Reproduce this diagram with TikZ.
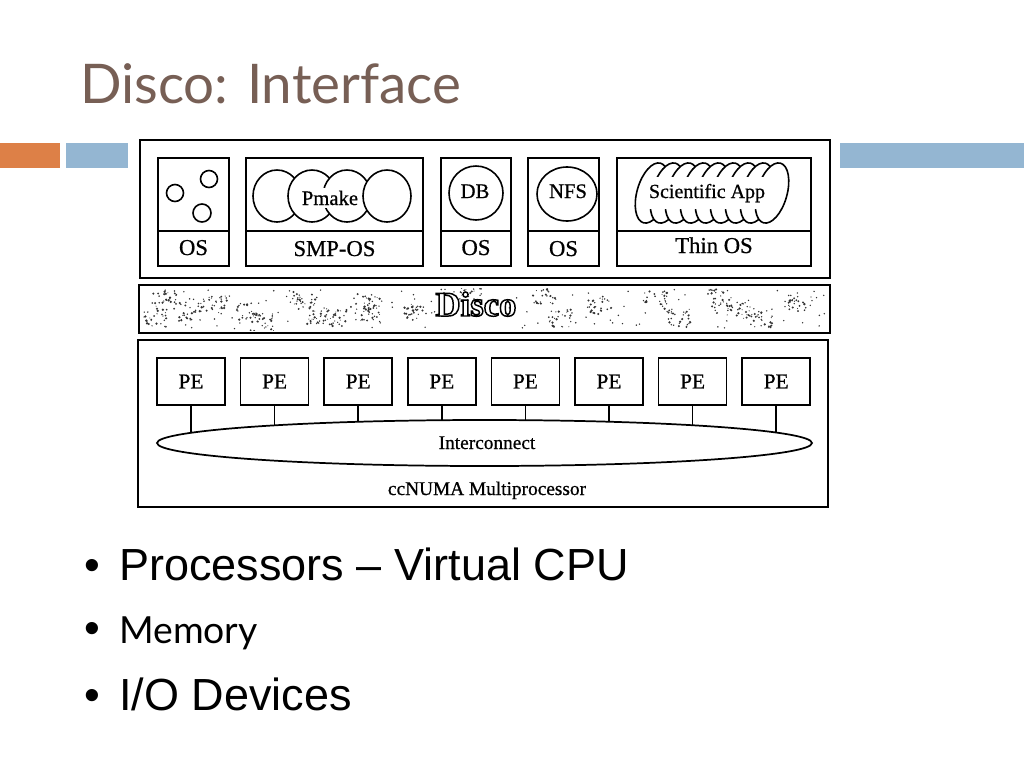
\documentclass[tikz,border=0pt]{standalone}
\usepackage{fontspec}
\setmainfont{Liberation Serif}[FakeBold=0.7]
\newfontfamily\arialf{Liberation Sans}
\newfontfamily\gillf{Lato}
\newfontfamily\discof{Liberation Serif}[BoldFont={* Bold}]
\usetikzlibrary{shapes.geometric}
\pgfdeclarelayer{background}
\pgfsetlayers{background,main}
\newcommand\myfs[1]{\fontsize{#1}{#1}\selectfont}
\definecolor{titlec}{HTML}{775F55}
\definecolor{orangec}{HTML}{DD8047}
\definecolor{bluec}{HTML}{94B6D2}
\begin{document}
\begin{tikzpicture}[x=0.75pt,y=-0.75pt,
  every node/.style={inner sep=0pt},
  frame/.style={draw, line width=1.6pt, rectangle, inner sep=0pt},
  ibox/.style={draw, line width=1.3pt, rectangle, minimum height=81pt},
  pebox/.style={draw, line width=1.3pt, rectangle, minimum width=51pt, minimum height=35.25pt, font=\myfs{16}},
  lbl/.style={anchor=base, font=\myfs{17}},
  slbl/.style={anchor=base, font=\myfs{15.5}},
  thinline/.style={line width=1.2pt},
  conn/.style={line width=1.1pt},
  speck/.style={fill=black!80},
  bullet/.style={anchor=base west, font=\arialf\myfs{33.75}}
]
\useasboundingbox (0,0) rectangle (1024,768);
\begin{pgfonlayer}{background}
\fill[white] (0,0) rectangle (1024,768);
\end{pgfonlayer}

% title and decoration bars
\node[anchor=base west, text=titlec, font=\gillf\myfs{41}] (title) at (80,103) {Disco: Interface};
\fill[orangec] (0,143) rectangle (60,168);
\fill[bluec] (66,143) rectangle (128,168);
\fill[bluec] (840,143) rectangle (1024,168);

% outer frames
\node[frame, minimum width=517.5pt, minimum height=103.5pt] (top) at (485,209) {};
\node[frame, minimum width=518.25pt, minimum height=36pt] (band) at (484.5,309) {};
\node[frame, minimum width=517.5pt, minimum height=125.25pt] (bot) at (483,423.5) {};

% speckle texture of the Disco band
\begin{scope}
\clip (142,288) rectangle (827,330);
\pgfmathsetseed{12}
\foreach \cx/\cy in {155/318,165/300,190/312,215/305,248/312,262/322,305/300,318/315,335/318,368/302,372/314,415/312,470/292,545/296,560/318,600/305,655/300,680/318,720/298,738/310,760/318,800/303}{
  \foreach \k in {1,...,26}{
    \pgfmathsetmacro\dx{rand*12}
    \pgfmathsetmacro\dy{rand*9}
    \pgfmathsetmacro\rr{0.9+0.4*rand}
    \fill[speck] (\cx+\dx,\cy+\dy) circle[radius=\rr];
  }
}
\foreach \k in {1,...,140}{
  \pgfmathsetmacro\xx{485+rand*340}
  \pgfmathsetmacro\yy{309+rand*20}
  \fill[speck] (\xx,\yy) circle[radius=0.8];
}
\end{scope}
\node[anchor=base, text=white, font=\discof\bfseries\myfs{26}] (disco) at (476,316)
  {\special{pdf:code 0 G 2 Tr 1.1 w}Disco\special{pdf:code 0 Tr}};

% top inner boxes
\node[ibox, minimum width=53.25pt] (b1) at (193.5,212) {};
\node[ibox, minimum width=132.75pt] (b2) at (334.5,212) {};
\node[ibox, minimum width=52.5pt] (b3) at (476,212) {};
\node[ibox, minimum width=53.25pt] (b4) at (563.5,212) {};
\node[ibox, minimum width=145.5pt] (b5) at (714,212) {};
\coordinate (div) at (0,231);
\foreach \b in {b1,b2,b3,b4,b5}
  \draw[thinline] (\b.west |- div) -- (\b.east |- div);

\node[lbl] (os1) at (193.5,255) {OS};
\node[lbl] (os2) at (334.5,256) {SMP-OS};
\node[lbl] (os3) at (476,255) {OS};
\node[lbl] (os4) at (563.5,256) {OS};
\node[lbl] (os5) at (714,253) {Thin OS};

% box 1: three small circles
\draw[thinline] (175,193) circle[radius=8.5];
\draw[thinline] (209,179) circle[radius=8.5];
\draw[thinline] (202,213) circle[radius=9];

% box 2: Pmake circles
\foreach \cx in {277,312,347,387}
  \draw[thinline, fill=white] (\cx,196) ellipse[x radius=24, y radius=26];
\node[slbl, fill=white, inner xsep=1pt, inner ysep=2pt] (pmake) at (330,205) {Pmake};

% box 3: DB
\draw[thinline] (476,193) circle[radius=27];
\node[slbl] (db) at (475,198) {DB};

% box 4: NFS
\draw[thinline] (567,194) ellipse[x radius=30, y radius=27];
\node[slbl] (nfs) at (568,198) {NFS};

% box 5: Scientific App coil
\foreach \k in {0,...,8}{
  \pgfmathsetmacro\ex{652+15*\k}
  \draw[thinline, fill=white, rotate around={-16:(\ex,193)}] (\ex,193) ellipse[x radius=15, y radius=31];
}
\node[anchor=base, font=\myfs{15}, fill=white, inner xsep=2pt, inner ysep=5pt] (sci) at (707,198) {Scientific App};

% PEs and interconnect
\foreach \i in {1,...,8}{
  \pgfmathsetmacro\px{191+83.6*(\i-1)}
  \node[pebox] (pe\i) at (\px,381.5) {PE};
}
\node[draw, ellipse, line width=1.3pt, fill=white, minimum width=491.25pt, minimum height=34.5pt] (ic) at (484.5,443) {};
\node[anchor=base, font=\myfs{14.5}] (ictext) at (487,449) {Interconnect};
\begin{pgfonlayer}{background}
\foreach \i in {1,...,8}
  \draw[conn] (pe\i.south) -- (pe\i.south |- ic.center);
\end{pgfonlayer}
\node[anchor=base, font=\myfs{14.5}] (ccnuma) at (487,495) {ccNUMA Multiprocessor};

% bullets
\node[bullet] (bu1) at (84,580) {•};
\node[bullet] (t1) at (119,580) {Processors – Virtual CPU};
\node[bullet] (bu2) at (84,643) {•};
\node[anchor=base west, font=\gillf\myfs{28}] (t2) at (119,643) {Memory};
\node[bullet] (bu3) at (84,710) {•};
\node[bullet] (t3) at (119,710) {I/O Devices};
\end{tikzpicture}
\end{document}
